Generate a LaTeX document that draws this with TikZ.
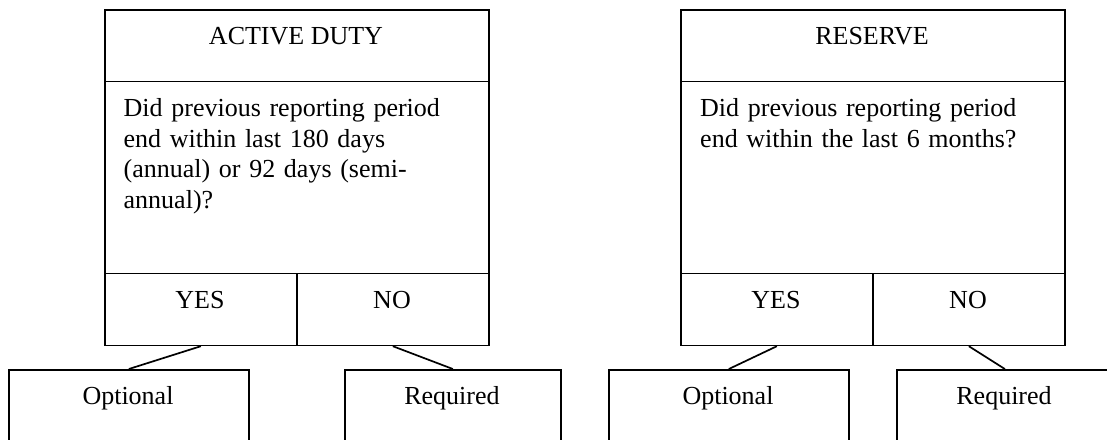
\documentclass[tikz,border=0pt]{standalone}
\usepackage{fontspec}
\setmainfont{Liberation Serif}
\begin{document}
\begin{tikzpicture}[x=1pt,y=-1pt,
  box/.style={draw,line width=1.7pt,inner sep=0pt,anchor=north west},
  lbl/.style={inner sep=0pt,anchor=base,font=\fontsize{26}{30.5}\selectfont},
  qtext/.style={inner sep=0pt,anchor=base west,text width=340pt,align=left,font=\fontsize{26}{30.5}\selectfont},
  conn/.style={line width=1.7pt}]
\useasboundingbox (0,0) rectangle (1107,439);
\clip (0,0) rectangle (1107,439);
% ACTIVE DUTY
\node[box,minimum width=384pt,minimum height=71.5pt] (adtitle) at (104,9) {};
\node[box,minimum width=384pt,minimum height=192pt] (adq) at (104,80.5) {};
\node[box,minimum width=192pt,minimum height=72pt] (adyes) at (104,272.5) {};
\node[box,minimum width=192pt,minimum height=72pt] (adno) at (296,272.5) {};
\node[lbl] (adtitlet) at (296,44) {ACTIVE DUTY};
\node[qtext] (adqt) at (123.5,116.5) {Did previous reporting period\\end within last 180 days\\(annual) or 92 days (semi-\\annual)?};
\node[lbl] (adyest) at (200,308) {YES};
\node[lbl] (adnot) at (392,308) {NO};
\node[box,minimum width=240pt,minimum height=90pt] (adopt) at (8,369) {};
\node[box,minimum width=216pt,minimum height=90pt] (adreq) at (344,369) {};
\node[lbl] (adoptt) at (128,404) {Optional};
\node[lbl] (adreqt) at (452,404) {Required};
\draw[conn] (adyes.south) -- (adopt.north);
\draw[conn] (adno.south) -- (adreq.north);
% RESERVE
\node[box,minimum width=384pt,minimum height=71.5pt] (rstitle) at (680,9) {};
\node[box,minimum width=384pt,minimum height=192pt] (rsq) at (680,80.5) {};
\node[box,minimum width=192pt,minimum height=72pt] (rsyes) at (680,272.5) {};
\node[box,minimum width=192pt,minimum height=72pt] (rsno) at (872,272.5) {};
\node[lbl] (rstitlet) at (872,44) {RESERVE};
\node[qtext] (rsqt) at (700,116.5) {Did previous reporting period\\end within the last 6 months?};
\node[lbl] (rsyest) at (776,308) {YES};
\node[lbl] (rsnot) at (968,308) {NO};
\node[box,minimum width=240pt,minimum height=90pt] (rsopt) at (608,369) {};
\node[box,minimum width=216pt,minimum height=90pt] (rsreq) at (896,369) {};
\node[lbl] (rsoptt) at (728,404) {Optional};
\node[lbl] (rsreqt) at (1004,404) {Required};
\draw[conn] (rsyes.south) -- (rsopt.north);
\draw[conn] (rsno.south) -- (rsreq.north);
\end{tikzpicture}
\end{document}
